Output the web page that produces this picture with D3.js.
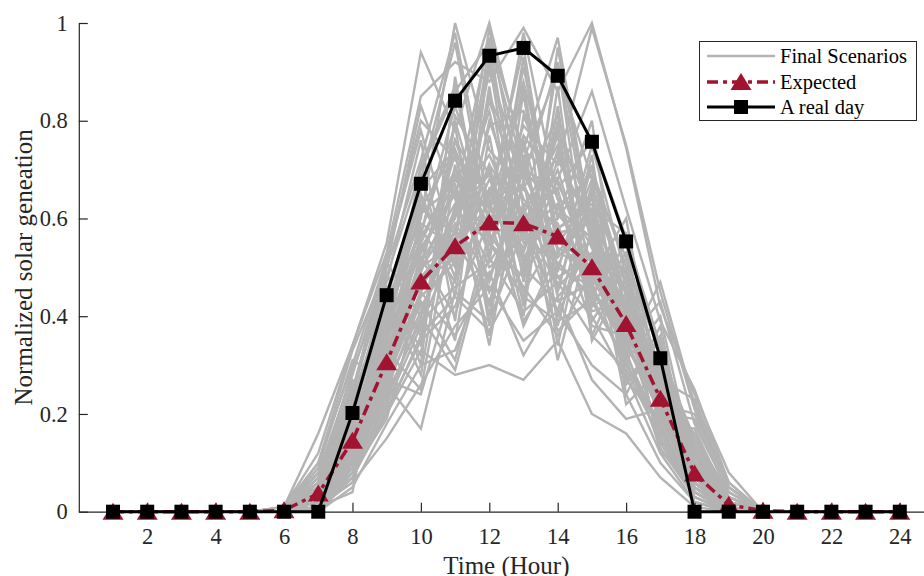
<!DOCTYPE html>
<html>
<head>
<meta charset="utf-8">
<script src="https://cdn.jsdelivr.net/npm/d3@7"></script>
<style>
  body { margin: 0; background: #fff; }
  svg { display: block; font-family: "Liberation Serif", "Times New Roman", serif; }
</style>
</head>
<body>
<svg width="924" height="576"></svg>
<script>
// hours 1..24
var hours = [1,2,3,4,5,6,7,8,9,10,11,12,13,14,15,16,17,18,19,20,21,22,23,24];
var xTicks = [2,4,6,8,10,12,14,16,18,20,22,24];
var yTicks = [0,0.2,0.4,0.6,0.8,1];

var expected = [0,0,0,0,0,0.003,0.037,0.145,0.306,0.471,0.543,0.592,0.590,0.563,0.500,0.384,0.231,0.078,0.014,0.002,0,0,0,0];
var realDay  = [0,0,0,0,0,0,0,0.202,0.443,0.671,0.841,0.933,0.949,0.892,0.757,0.553,0.314,0,0,0,0,0,0,0];

// final scenarios, hours 1..24
var scenarios = [
  [0,0,0,0,0,0,0.02,0.12,0.28,0.45,0.62,0.55,0.71,0.48,0.52,0.35,0.20,0.05,0,0,0,0,0,0],
  [0,0,0,0,0,0.01,0.05,0.18,0.40,0.58,0.47,0.80,0.60,0.66,0.41,0.43,0.25,0.09,0.01,0,0,0,0,0],
  [0,0,0,0,0,0,0,0.08,0.22,0.38,0.55,0.70,0.49,0.58,0.62,0.30,0.18,0.02,0,0,0,0,0,0],
  [0,0,0,0,0,0,0.08,0.25,0.50,0.72,0.98,0.62,0.85,0.56,0.46,0.44,0.28,0.12,0.02,0,0,0,0,0],
  [0,0,0,0,0,0,0.03,0.15,0.31,0.52,0.40,0.66,0.53,0.74,0.50,0.38,0.21,0.06,0,0,0,0,0,0],
  [0,0,0,0,0,0,0.01,0.10,0.26,0.41,0.58,0.45,0.62,0.40,0.57,0.33,0.26,0.08,0.02,0,0,0,0,0],
  [0,0,0,0,0,0.01,0.12,0.34,0.55,0.94,0.78,1.00,0.72,0.90,0.68,0.52,0.32,0.15,0.04,0,0,0,0,0],
  [0,0,0,0,0,0,0,0.05,0.18,0.30,0.33,0.52,0.41,0.47,0.36,0.29,0.15,0.03,0,0,0,0,0,0],
  [0,0,0,0,0,0,0.04,0.16,0.35,0.55,0.70,0.61,0.98,0.64,0.60,0.45,0.24,0.07,0.01,0,0,0,0,0],
  [0,0,0,0,0,0,0.02,0.13,0.29,0.47,0.52,0.68,0.56,0.51,0.44,0.40,0.19,0.10,0.01,0,0,0,0,0],
  [0,0,0,0,0,0,0.06,0.20,0.42,0.60,1.00,0.74,0.66,0.81,0.55,0.39,0.30,0.11,0.03,0,0,0,0,0],
  [0,0,0,0,0,0,0,0.07,0.20,0.36,0.44,0.37,0.50,0.43,0.47,0.28,0.12,0.02,0,0,0,0,0,0],
  [0,0,0,0,0,0,0.02,0.14,0.33,0.50,0.60,0.82,0.52,0.62,0.56,0.42,0.22,0.06,0,0,0,0,0,0],
  [0,0,0,0,0,0,0.01,0.09,0.25,0.43,0.31,0.57,0.46,0.36,0.49,0.32,0.17,0.04,0,0,0,0,0,0],
  [0,0,0,0,0,0,0.05,0.22,0.45,0.66,0.74,0.58,0.79,0.71,0.99,0.75,0.45,0.21,0.05,0,0,0,0,0],
  [0,0,0,0,0,0,0.03,0.17,0.32,0.49,0.66,0.50,0.56,0.77,0.42,0.46,0.27,0.05,0,0,0,0,0,0],
  [0,0,0,0,0,0,0,0.11,0.27,0.24,0.48,0.64,0.38,0.53,0.50,0.34,0.21,0.07,0.01,0,0,0,0,0],
  [0,0,0,0,0,0,0.04,0.19,0.38,0.62,0.57,0.90,0.69,0.55,0.64,0.47,0.25,0.09,0.02,0,0,0,0,0],
  [0,0,0,0,0,0,0.02,0.10,0.30,0.48,0.56,0.43,0.63,0.59,0.38,0.36,0.16,0.03,0,0,0,0,0,0],
  [0,0,0,0,0,0.01,0.10,0.30,0.52,0.80,0.72,0.65,0.88,0.60,0.70,0.50,0.33,0.14,0.03,0,0,0,0,0],
  [0,0,0,0,0,0,0.01,0.06,0.15,0.26,0.38,0.46,0.35,0.41,0.30,0.24,0.10,0.02,0,0,0,0,0,0],
  [0,0,0,0,0,0,0.03,0.16,0.36,0.53,0.68,0.59,0.74,0.97,0.58,0.41,0.23,0.08,0.01,0,0,0,0,0],
  [0,0,0,0,0,0,0.02,0.12,0.27,0.44,0.51,0.71,0.60,0.46,0.53,0.37,0.20,0.05,0,0,0,0,0,0],
  [0,0,0,0,0,0,0.05,0.21,0.41,0.57,0.83,0.62,0.54,0.70,0.47,0.44,0.26,0.10,0.02,0,0,0,0,0],
  [0,0,0,0,0,0,0.01,0.08,0.23,0.40,0.29,0.55,0.44,0.39,0.43,0.31,0.14,0.03,0,0,0,0,0,0],
  [0,0,0,0,0,0,0.07,0.24,0.48,0.70,0.86,0.96,0.70,0.66,0.76,0.56,0.34,0.13,0.03,0,0,0,0,0],
  [0,0,0,0,0,0,0.02,0.13,0.34,0.46,0.59,0.48,0.67,0.52,0.61,0.38,0.22,0.07,0,0,0,0,0,0],
  [0,0,0,0,0,0,0.03,0.15,0.29,0.51,0.63,0.73,0.57,0.63,0.45,0.36,0.24,0.06,0.01,0,0,0,0,0],
  [0,0,0,0,0,0,0,0.09,0.24,0.39,0.46,0.51,0.62,0.48,0.40,0.27,0.18,0.04,0,0,0,0,0,0],
  [0,0,0,0,0,0,0.04,0.18,0.37,0.56,0.69,0.53,0.77,0.67,0.54,0.49,0.29,0.11,0.02,0,0,0,0,0],
  [0,0,0,0,0,0,0.02,0.11,0.31,0.42,0.53,0.66,0.45,0.57,0.59,0.40,0.19,0.05,0,0,0,0,0,0],
  [0,0,0,0,0,0,0.06,0.23,0.44,0.64,0.50,0.79,0.82,0.61,0.52,0.43,0.27,0.10,0.02,0,0,0,0,0],
  [0,0,0,0,0,0,0.01,0.07,0.21,0.35,0.42,0.60,0.39,0.50,0.46,0.33,0.13,0.03,0,0,0,0,0,0],
  [0,0,0,0,0,0,0.03,0.14,0.33,0.54,0.65,0.57,0.72,0.44,0.51,0.37,0.23,0.08,0.01,0,0,0,0,0],
  [0,0,0,0,0,0,0.02,0.12,0.28,0.45,0.61,0.69,0.51,0.68,0.48,0.35,0.20,0.06,0,0,0,0,0,0],
  [0,0,0,0,0,0,0.04,0.17,0.36,0.59,0.54,0.63,0.66,0.58,0.63,0.42,0.25,0.09,0.01,0,0,0,0,0],
  [0,0,0,0,0,0,0.01,0.10,0.26,0.17,0.45,0.39,0.58,0.37,0.44,0.30,0.17,0.04,0,0,0,0,0,0],
  [0,0,0,0,0,0,0.03,0.16,0.35,0.50,0.76,0.56,0.61,0.73,0.57,0.45,0.28,0.07,0.01,0,0,0,0,0],
  [0,0,0,0,0,0,0.02,0.13,0.32,0.47,0.57,0.84,0.64,0.54,0.50,0.39,0.21,0.06,0,0,0,0,0,0],
  [0,0,0,0,0,0,0.05,0.19,0.39,0.61,0.67,0.47,0.70,0.62,0.69,0.46,0.26,0.08,0.02,0,0,0,0,0],
  [0,0,0,0,0,0.01,0.16,0.34,0.53,0.85,0.92,0.88,0.99,0.86,1.00,0.745,0.42,0.24,0.08,0,0,0,0,0],
  [0,0,0,0,0,0,0.02,0.10,0.20,0.33,0.28,0.30,0.27,0.35,0.20,0.16,0.07,0.01,0,0,0,0,0,0],
  [0,0,0,0,0,0,0.03,0.14,0.30,0.50,0.55,0.99,0.62,0.75,0.45,0.38,0.31,0.12,0.02,0,0,0,0,0],
  [0,0,0,0,0,0,0.04,0.20,0.46,0.36,0.71,0.42,0.76,0.50,0.68,0.33,0.47,0.22,0.05,0,0,0,0,0],
  [0,0,0,0,0,0,0.01,0.06,0.33,0.25,0.63,0.36,0.68,0.31,0.58,0.22,0.29,0.06,0,0,0,0,0,0],
  [0,0,0,0,0,0,0.09,0.31,0.27,0.69,0.44,0.87,0.47,0.80,0.36,0.52,0.18,0.17,0.02,0,0,0,0,0],
  [0,0,0,0,0,0,0.03,0.19,0.49,0.30,0.89,0.51,0.93,0.45,0.73,0.27,0.35,0.08,0.01,0,0,0,0,0],
  [0,0,0,0,0,0,0.02,0.11,0.38,0.55,0.35,0.77,0.42,0.83,0.39,0.50,0.16,0.14,0.03,0,0,0,0,0],
  [0,0,0,0,0,0,0.05,0.27,0.21,0.62,0.74,0.40,0.86,0.38,0.65,0.24,0.38,0.05,0,0,0,0,0,0],
  [0,0,0,0,0,0,0.01,0.04,0.41,0.34,0.80,0.55,0.48,0.92,0.44,0.55,0.20,0.19,0.04,0,0,0,0,0],
  [0,0,0,0,0,0,0.06,0.29,0.47,0.76,0.39,0.93,0.58,0.78,0.61,0.28,0.30,0.07,0.01,0,0,0,0,0],
  [0,0,0,0,0,0,0.02,0.13,0.24,0.53,0.66,0.34,0.73,0.45,0.71,0.41,0.14,0.11,0.02,0,0,0,0,0],
  [0,0,0,0,0,0,0.04,0.22,0.43,0.32,0.81,0.69,0.40,0.87,0.35,0.48,0.24,0.16,0.03,0,0,0,0,0],
  [0,0,0,0,0,0,0.03,0.09,0.37,0.65,0.48,0.96,0.55,0.60,0.80,0.31,0.40,0.09,0.01,0,0,0,0,0],
  [0,0,0,0,0,0,0.07,0.26,0.34,0.71,0.87,0.52,0.91,0.57,0.48,0.60,0.22,0.20,0.05,0,0,0,0,0],
  [0,0,0,0,0,0,0.01,0.10,0.44,0.28,0.69,0.62,0.76,0.34,0.66,0.26,0.36,0.04,0,0,0,0,0,0],
  [0,0,0,0,0,0,0.05,0.24,0.52,0.78,0.53,0.71,0.43,0.95,0.56,0.45,0.19,0.13,0.02,0,0,0,0,0],
  [0,0,0,0,0,0,0.02,0.15,0.26,0.57,0.79,0.38,0.81,0.64,0.42,0.53,0.28,0.10,0.01,0,0,0,0,0],
  [0,0,0,0,0,0,0.08,0.28,0.51,0.40,0.61,0.92,0.50,0.72,0.59,0.35,0.43,0.18,0.04,0,0,0,0,0],
  [0,0,0,0,0,0,0.03,0.12,0.39,0.68,0.96,0.58,0.87,0.49,0.75,0.48,0.26,0.15,0.03,0,0,0,0,0],
  [0,0,0,0,0,0,0.01,0.08,0.19,0.45,0.36,0.49,0.32,0.44,0.27,0.19,0.21,0.05,0,0,0,0,0,0],
  [0,0,0,0,0,0,0.06,0.21,0.46,0.37,0.76,0.64,0.95,0.53,0.62,0.57,0.32,0.12,0.02,0,0,0,0,0],
  [0,0,0,0,0,0,0.04,0.17,0.42,0.63,0.51,0.85,0.68,0.92,0.54,0.37,0.27,0.23,0.06,0,0,0,0,0],
  [0,0,0,0,0,0,0.02,0.14,0.29,0.51,0.73,0.45,0.59,0.41,0.67,0.44,0.12,0.08,0.01,0,0,0,0,0],
  [0,0,0,0,0,0,0.10,0.33,0.50,0.83,0.64,0.97,0.74,0.68,0.86,0.62,0.39,0.25,0.06,0,0,0,0,0]
];

var legendLabels = ["Final Scenarios", "Expected", "A real day"];

var grey = "#b3b3b3", red = "#a11431", black = "#000000", axisColor = "#262626";

var svg = d3.select("svg");

var x = d3.scaleLinear().domain([0, 25]).range([78.8, 934]);
var y = d3.scaleLinear().domain([0, 1]).range([511.7, 23]);

var line = d3.line()
    .x(function(d, i) { return x(hours[i]); })
    .y(function(d) { return y(d); });

// grey scenario lines
svg.append("g")
  .selectAll("path")
  .data(scenarios)
  .enter().append("path")
    .attr("d", line)
    .attr("fill", "none")
    .attr("stroke", grey)
    .attr("stroke-width", 2.4)
    .attr("stroke-linejoin", "miter");

// axes
var xAxis = svg.append("g")
    .attr("transform", "translate(0," + y(0) + ")")
    .call(d3.axisBottom(x).tickValues(xTicks).tickSizeInner(-9).tickSizeOuter(0).tickPadding(16));

var yAxis = svg.append("g")
    .attr("transform", "translate(" + x(0) + ",0)")
    .call(d3.axisLeft(y).tickValues(yTicks).tickSizeInner(-9).tickSizeOuter(0).tickPadding(11)
      .tickFormat(d3.format("~g")));

[xAxis, yAxis].forEach(function(a) {
  a.select(".domain").attr("stroke", axisColor).attr("stroke-width", 1.2);
  a.selectAll(".tick line").attr("stroke", axisColor).attr("stroke-width", 1.2);
  a.selectAll(".tick text")
    .attr("fill", axisColor)
    .style("font-family", "Liberation Serif")
    .style("font-size", "22.5px");
});

// expected (red dash-dot with triangles)
svg.append("path")
    .datum(expected)
    .attr("d", line)
    .attr("fill", "none")
    .attr("stroke", red)
    .attr("stroke-width", 3.5)
    .attr("stroke-dasharray", "11,5,4,5");

var tri = "M0,-9 L10.5,8 L-10.5,8 Z";
svg.append("g")
  .selectAll("path")
  .data(expected)
  .enter().append("path")
    .attr("d", tri)
    .attr("transform", function(d, i) { return "translate(" + x(hours[i]) + "," + y(d) + ")"; })
    .attr("fill", red);

// real day (black solid with squares)
svg.append("path")
    .datum(realDay)
    .attr("d", line)
    .attr("fill", "none")
    .attr("stroke", black)
    .attr("stroke-width", 3);

svg.append("g")
  .selectAll("rect")
  .data(realDay)
  .enter().append("rect")
    .attr("x", function(d, i) { return x(hours[i]) - 7; })
    .attr("y", function(d) { return y(d) - 7; })
    .attr("width", 14)
    .attr("height", 14)
    .attr("fill", black);

// axis labels
svg.append("text")
    .attr("x", x(12.5))
    .attr("y", 574)
    .attr("text-anchor", "middle")
    .attr("fill", axisColor)
    .style("font-size", "25px")
    .text("Time (Hour)");

svg.append("text")
    .attr("transform", "translate(32," + ((y(0) + y(1)) / 2) + ") rotate(-90)")
    .attr("text-anchor", "middle")
    .attr("fill", axisColor)
    .style("font-size", "25px")
    .text("Normalized solar geneation");

// legend
var lg = svg.append("g");
lg.append("rect")
    .attr("x", 699.5).attr("y", 41.5)
    .attr("width", 217).attr("height", 79)
    .attr("fill", "#fff")
    .attr("stroke", axisColor)
    .attr("stroke-width", 1);

var rowY = [56, 82, 107];
lg.append("line")
    .attr("x1", 707).attr("x2", 775).attr("y1", rowY[0]).attr("y2", rowY[0])
    .attr("stroke", grey).attr("stroke-width", 2.4);
lg.append("line")
    .attr("x1", 707).attr("x2", 775).attr("y1", rowY[1]).attr("y2", rowY[1])
    .attr("stroke", red).attr("stroke-width", 3.5).attr("stroke-dasharray", "11,5,4,5");
lg.append("path")
    .attr("d", tri)
    .attr("transform", "translate(741," + rowY[1] + ")")
    .attr("fill", red);
lg.append("line")
    .attr("x1", 707).attr("x2", 775).attr("y1", rowY[2]).attr("y2", rowY[2])
    .attr("stroke", black).attr("stroke-width", 3);
lg.append("rect")
    .attr("x", 734).attr("y", rowY[2] - 7).attr("width", 14).attr("height", 14)
    .attr("fill", black);

lg.selectAll("text.lab")
  .data(legendLabels)
  .enter().append("text")
    .attr("class", "lab")
    .attr("x", 780)
    .attr("y", function(d, i) { return rowY[i] + 7; })
    .attr("fill", "#000")
    .style("font-size", "20.5px")
    .text(function(d) { return d; });
</script>
</body>
</html>
